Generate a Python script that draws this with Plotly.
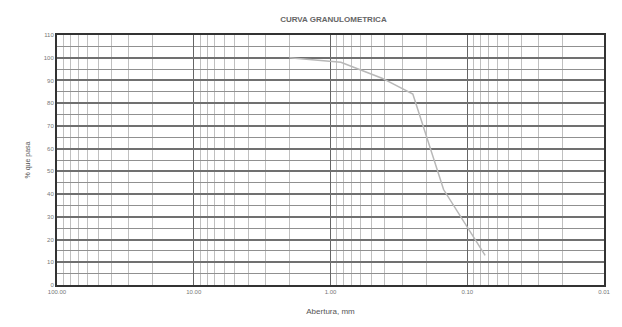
import plotly.graph_objects as go

aperture_mm = [2.00, 0.84, 0.42, 0.25, 0.149, 0.074]
percent_passing = [100, 98, 91, 84, 42, 13]
x_tick_vals = [100, 10, 1, 0.1, 0.01]
x_tick_text = ["100.00", "10.00", "1.00", "0.10", "0.01"]
y_tick_vals = list(range(0, 111, 10))

fig = go.Figure()
fig.add_trace(go.Scatter(
    x=aperture_mm, y=percent_passing, mode="lines",
    line=dict(color="#b8b8b8", width=1.5), showlegend=False,
))

fig.update_layout(
    width=614, height=319,
    margin=dict(l=49, r=13, t=27, b=35),
    paper_bgcolor="white", plot_bgcolor="white",
    font=dict(family="Liberation Sans, Arial, sans-serif", size=7, color="#666"),
    title=dict(text="<b>CURVA GRANULOMETRICA</b>", x=0.53, xanchor="center", y=0.965,
               yanchor="middle", font=dict(size=8, color="#666")),
    xaxis=dict(
        type="log", range=[2, -2], tickvals=x_tick_vals, ticktext=x_tick_text,
        showgrid=True, gridcolor="#666", gridwidth=1,
        minor=dict(showgrid=True, dtick="D1", gridcolor="#c0c0c0", gridwidth=1),
        showline=True, linecolor="#333", linewidth=2, mirror=True,
        ticks="", tickfont=dict(size=6, color="#777"),
        title=dict(text="Abertura, mm", font=dict(size=8, color="#555"), standoff=14),
        zeroline=False,
    ),
    yaxis=dict(
        range=[0, 110], tickvals=y_tick_vals,
        showgrid=True, gridcolor="#707070", gridwidth=1.5,
        minor=dict(showgrid=True, dtick=5, gridcolor="#909090", gridwidth=1.2),
        showline=True, linecolor="#333", linewidth=2, mirror=True,
        ticks="", tickfont=dict(size=6, color="#777"),
        title=dict(text="% que pasa", font=dict(size=7, color="#555"), standoff=12),
        zeroline=False,
    ),
)

fig.write_html("out.html")
